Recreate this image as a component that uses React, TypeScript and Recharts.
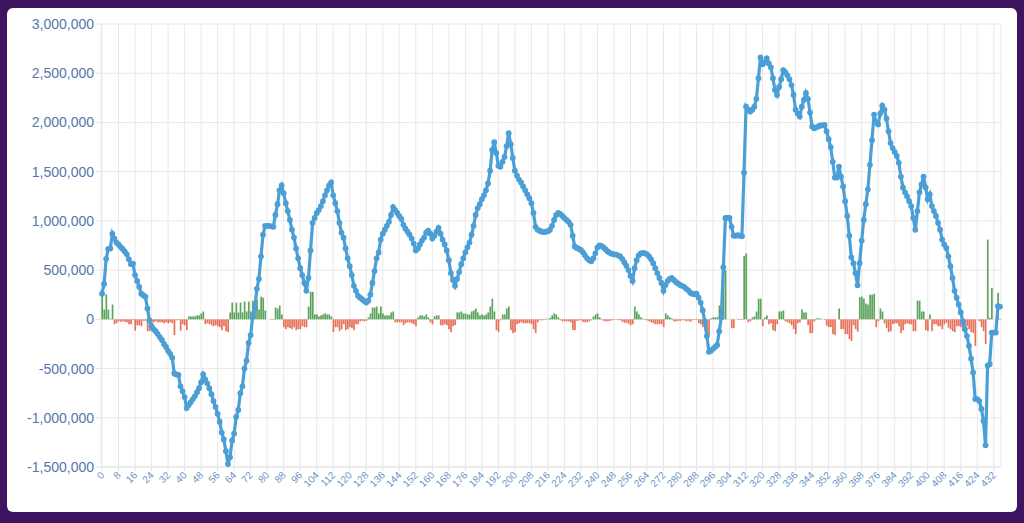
import { ComposedChart, Bar, Line, XAxis, YAxis, CartesianGrid } from "recharts";

// running balance, in thousands, one value per day (0..435)
const balanceK = [
  260, 360, 615, 715, 720, 870, 820, 780, 760, 735,
  715, 690, 660, 610, 560, 565, 450, 390, 330, 260,
  245, 230, 110, -10, -70, -100, -120, -150, -180, -210,
  -250, -280, -320, -350, -390, -550, -560, -565, -680, -730,
  -790, -900, -870, -840, -810, -780, -740, -700, -640, -560,
  -610, -650, -700, -760, -830, -890, -960, -1040, -1150, -1220,
  -1340, -1470, -1400, -1230, -1160, -990, -920, -750, -680, -500,
  -420, -240, -160, 30, 110, 310, 410, 640, 860, 950,
  950, 950, 945, 940, 1060, 1170, 1310, 1360, 1280, 1180,
  1100, 1010, 910, 830, 720, 620, 520, 450, 370, 290,
  420, 700, 980, 1030, 1080, 1110, 1150, 1200, 1260, 1310,
  1360, 1390, 1260, 1180, 1100, 980, 880, 830, 720, 620,
  540, 450, 340, 290, 240, 220, 205, 185, 170, 190,
  250, 370, 490, 620, 680, 810, 870, 910, 950, 990,
  1060, 1140, 1110, 1080, 1050, 1020, 960, 920, 890, 860,
  820, 770, 700, 720, 760, 800, 830, 880, 900, 870,
  820, 850, 890, 930, 870, 810, 760, 700, 600, 470,
  400, 340, 410, 480, 560, 620, 680, 730, 780, 860,
  950, 1060, 1130, 1170, 1220, 1260, 1310, 1380, 1510, 1720,
  1800, 1690, 1560, 1550, 1600, 1650, 1760, 1890, 1780, 1640,
  1510, 1460, 1420, 1390, 1350, 1310, 1270, 1230, 1180, 1080,
  940, 910, 900, 890, 885, 890, 895, 910, 950, 1010,
  1060, 1080, 1070, 1050, 1030, 1010, 990, 960, 850, 740,
  725, 715, 705, 680, 650, 620, 600, 590, 620, 670,
  730, 750, 745, 730, 710, 690, 675, 665, 660, 658,
  650, 640, 615, 580, 545, 500, 440, 390, 520, 600,
  650, 670, 675, 670, 660, 640, 610, 570, 520, 470,
  420, 370, 290, 350, 390, 410, 420, 400, 380, 365,
  350, 340, 330, 310, 295, 270, 260, 255, 260, 220,
  170, 90, -20, -170, -330, -320, -300, -280, -260, -120,
  20, 530, 1030, 1030, 1030, 940, 850, 850, 855, 850,
  845, 1490, 2160, 2130, 2110, 2130, 2160, 2240, 2450, 2660,
  2590, 2610, 2650, 2600, 2560, 2450, 2330, 2280, 2360, 2440,
  2530, 2510, 2480, 2440, 2380, 2280, 2130, 2090, 2060, 2160,
  2230, 2300, 2240, 2100, 1960, 1940, 1950, 1960, 1970, 1970,
  1975, 1910, 1830, 1750, 1600, 1440, 1440, 1550, 1450, 1350,
  1200, 1050, 850, 630, 570, 470, 345, 570, 800, 1010,
  1170, 1320, 1570, 1820, 2080, 2000, 1980, 2090, 2170, 2130,
  2040, 1910, 1790, 1740, 1700, 1660, 1590, 1450, 1340, 1290,
  1250, 1200, 1150, 1030, 910, 1100, 1290, 1370, 1450, 1340,
  1220, 1270, 1150, 1100, 1050, 980, 910, 810, 760, 725,
  640, 540, 420, 290, 220, 150, 70, -20, -100, -170,
  -270, -400, -540, -810, -810, -830, -910, -1030, -1280, -470,
  -455, -135, -135, -135, 135, 130,
];

// day-on-day change, in thousands
const changeK = [
  260, 100, 255, 100, 5, 150, -50, -40, -20, -25,
  -20, -25, -30, -50, -50, 5, -115, -60, -60, -70,
  -15, -15, -120, -120, -60, -30, -20, -30, -30, -30,
  -40, -30, -40, -30, -40, -160, -10, -5, -115, -50,
  -60, -110, 30, 30, 30, 30, 40, 40, 60, 80,
  -50, -40, -50, -60, -70, -60, -70, -80, -110, -70,
  -120, -130, 70, 170, 70, 170, 70, 170, 70, 180,
  80, 180, 80, 190, 80, 200, 100, 230, 220, 90,
  0, 0, -5, -5, 120, 110, 140, 50, -80, -100,
  -80, -90, -100, -80, -110, -100, -100, -70, -80, -80,
  130, 280, 280, 50, 50, 30, 40, 50, 60, 50,
  50, 30, -130, -80, -80, -120, -100, -50, -110, -100,
  -80, -90, -110, -50, -50, -20, -15, -20, -15, 20,
  60, 120, 120, 130, 60, 130, 60, 40, 40, 40,
  70, 80, -30, -30, -30, -30, -60, -40, -30, -30,
  -40, -50, -70, 20, 40, 40, 30, 50, 20, -30,
  -50, 30, 40, 40, -60, -60, -50, -60, -100, -130,
  -70, -60, 70, 70, 80, 60, 60, 50, 50, 80,
  90, 110, 70, 40, 50, 40, 50, 70, 130, 210,
  80, -110, -130, -10, 50, 50, 110, 130, -110, -140,
  -130, -50, -40, -30, -40, -40, -40, -40, -50, -100,
  -140, -30, -10, -10, -5, 5, 5, 15, 40, 60,
  50, 20, -10, -20, -20, -20, -20, -30, -110, -110,
  -15, -10, -10, -25, -30, -30, -20, -10, 30, 50,
  60, 20, -5, -15, -20, -20, -15, -10, -5, -2,
  -8, -10, -25, -35, -35, -45, -60, -50, 130, 80,
  50, 20, 5, -5, -10, -20, -30, -40, -50, -50,
  -50, -50, -80, 60, 40, 20, 10, -20, -20, -15,
  -15, -10, -10, -20, -15, -25, -10, -5, 5, -40,
  -50, -80, -110, -150, -160, 10, 20, 20, 20, 140,
  140, 510, 500, 0, 0, -90, -90, 0, 5, -5,
  -5, 645, 670, -30, -20, 20, 30, 80, 210, 210,
  -70, 20, 40, -50, -40, -110, -120, -50, 80, 80,
  90, -20, -30, -40, -60, -100, -150, -40, -30, 100,
  70, 70, -60, -140, -140, -20, 10, 10, 10, 0,
  5, -65, -80, -80, -150, -160, 0, 110, -100, -100,
  -150, -150, -200, -220, -60, -100, -125, 225, 230, 210,
  160, 150, 250, 250, 260, -80, -20, 110, 80, -40,
  -90, -130, -120, -50, -40, -40, -70, -140, -110, -50,
  -40, -50, -50, -120, -120, 190, 190, 80, 80, -110,
  -120, 50, -120, -50, -50, -70, -70, -100, -50, -35,
  -85, -100, -120, -130, -70, -70, -80, -90, -80, -70,
  -100, -130, -140, -270, 0, -20, -80, -120, -250, 810,
  15, 320, 0, 0, 270, -5,
];

const xTicks = [
  0, 8, 16, 24, 32, 40, 48, 56, 64, 72, 80, 88, 96, 104, 112, 120, 128, 136,
  144, 152, 160, 168, 176, 184, 192, 200, 208, 216, 224, 232, 240, 248, 256,
  264, 272, 280, 288, 296, 304, 312, 320, 328, 336, 344, 352, 360, 368, 376,
  384, 392, 400, 408, 416, 424, 432,
];

const yTicks = [-1500, -1000, -500, 0, 500, 1000, 1500, 2000, 2500, 3000];
const yTickLabels = [
  "-1,500,000", "-1,000,000", "-500,000", "0", "500,000",
  "1,000,000", "1,500,000", "2,000,000", "2,500,000", "3,000,000",
];

const rows = balanceK.map((balance, day) => ({ day, balance, change: changeK[day] }));

const BLUE = "#4b9fd6";
const GREEN = "#5ca35c";
const RED = "#e8715a";
const FONT = "'Liberation Sans', Arial, Helvetica, sans-serif";

function XTick({ x, y, payload }: any) {
  return (
    <g transform={`translate(${x},${y})`}>
      <text x={0} y={0} dy={4} textAnchor="end" transform="rotate(-45)" fill="#6f92c8" fontSize={10} fontFamily={FONT}>
        {payload.value}
      </text>
    </g>
  );
}

// bar coloured by the sign of the day's change
function ChangeBar(props: any) {
  const { x, y, width, height, payload } = props;
  if (x == null || y == null || !height) return null;
  const top = Math.min(y, y + height);
  const h = Math.abs(height);
  const cx = x + width / 2;
  const w = 1.7;
  return <rect x={cx - w / 2} y={top} width={w} height={h} fill={payload.change >= 0 ? GREEN : RED} />;
}

export default function App() {
  return (
    <div style={{ position: "fixed", left: 0, top: 0, width: 1024, height: 523, background: "#3d1460" }}>
      <div
        style={{
          position: "absolute",
          left: 7,
          top: 8,
          width: 1010,
          height: 504,
          background: "#fff",
          borderRadius: 6,
        }}
      />
      <div style={{ position: "absolute", left: 0, top: 0 }}>
        <ComposedChart
          width={1024}
          height={523}
          data={rows}
          margin={{ top: 24, right: 23, bottom: 16, left: 8 }}
        >
          <CartesianGrid stroke="#e9e9e9" />
          <XAxis
            dataKey="day"
            ticks={xTicks}
            interval={0}
            height={40}
            tick={<XTick />}
            tickSize={4}
            axisLine={{ stroke: "#e3e3e3" }}
            tickLine={{ stroke: "#e3e3e3" }}
          />
          <YAxis
            width={93}
            domain={[-1500, 3000]}
            ticks={yTicks}
            interval={0}
            axisLine={false}
            tickSize={5}
            tickLine={{ stroke: "#e3e3e3" }}
            tickFormatter={(v: number) => yTickLabels[yTicks.indexOf(v)]}
            tick={{ fill: "#5577ad", fontSize: 14, fontFamily: FONT }}
          />
          <Bar dataKey="change" shape={ChangeBar} isAnimationActive={false} />
          <Line
            dataKey="balance"
            type="linear"
            stroke={BLUE}
            strokeWidth={3.2}
            dot={{ r: 2.9, fill: BLUE, stroke: BLUE, strokeWidth: 0 }}
            activeDot={false}
            isAnimationActive={false}
          />
        </ComposedChart>
      </div>
    </div>
  );
}
